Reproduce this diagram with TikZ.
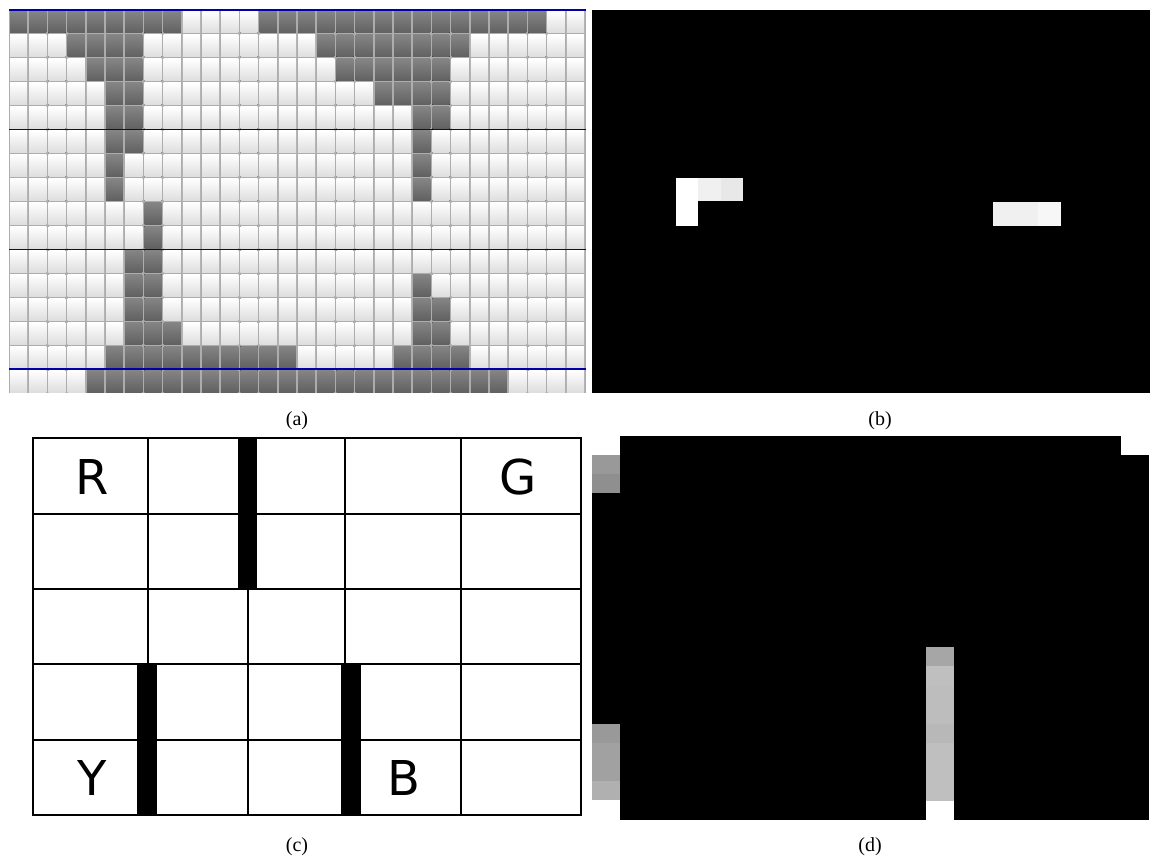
\documentclass[tikz,border=0pt]{standalone}
\usepackage{fontspec}
\setmainfont{Liberation Serif}
\newfontfamily\dejavu{DejaVu Sans}
\usepackage{tikz}
\usetikzlibrary{positioning}
\usepackage{xcolor}

\begin{document}
\begin{tikzpicture}[
    x=1pt, y=-1pt,
    cell/.style={top color=white, bottom color=black!13},
    darkcell/.style={top color=black!48, bottom color=black!62},
    rowline/.style={blue!65!black, line width=1.3pt},
    gridline/.style={line width=2.2pt, line cap=rect},
    wall/.style={fill=black},
    letter/.style={font=\dejavu\fontsize{48}{50}\selectfont, inner sep=0pt},
    caption/.style={font=\fontsize{20}{22}\selectfont, inner sep=0pt}
  ]
    \useasboundingbox (0,0) rectangle (1159,859);

    % (a) game screen
    \fill[black!32] (9,10) rectangle (586,393);
    \foreach \r in {0,...,15}
      \foreach \c in {0,...,29}
        \fill[cell] ({9+\c*19.2+1},{10+\r*23.94+1}) rectangle ({9+(\c+1)*19.2-1},{10+(\r+1)*23.94-1});
    \foreach \r/\a/\b in {0/0/8, 0/13/27, 1/3/6, 1/16/23, 2/4/6, 2/17/22, 3/5/6, 3/19/22,
                          4/5/6, 4/21/22, 5/5/6, 5/21/21, 6/5/5, 6/21/21, 7/5/5, 7/21/21,
                          8/7/7, 9/7/7, 10/6/7, 11/6/7, 11/21/21, 12/6/7, 12/21/22,
                          13/6/8, 13/21/22, 14/5/14, 14/20/23, 15/4/25}
      \foreach \c in {\a,...,\b}
        \fill[darkcell] ({9+\c*19.2+1},{10+\r*23.94+1}) rectangle ({9+(\c+1)*19.2-1},{10+(\r+1)*23.94-1});
    \foreach \y in {10,129.7,249.4,369.1}
      \draw[rowline] (9,\y) -- (586,\y);
    \node[caption] (capa) at (297,421) {(a)};

    % (b) frame difference
    \fill[black] (592,10) rectangle (1150,393);
    \fill[white] (676,178) rectangle (698,226);
    \fill[black!6] (698,178) rectangle (721,201);
    \fill[black!9] (721,178) rectangle (743,201);
    \fill[black!6] (993,202) rectangle (1038,226);
    \fill[black!3] (1038,202) rectangle (1061,226);
    \node[caption] (capb) at (880,421) {(b)};

    % (c) taxi grid
    \foreach \y in {514,589,664,740}
      \draw[gridline] (33,\y) -- (581,\y);
    \foreach \x in {148,248,345,461}
      \draw[gridline] (\x,438) -- (\x,815);
    \draw[gridline] (33,438) rectangle (581,815);
    \fill[wall] (238,438) rectangle (257,589);
    \fill[wall] (137,664) rectangle (157,815);
    \fill[wall] (341,664) rectangle (361,815);
    \node[letter] (red) at (92,477) {R};
    \node[letter] (green) at (518,477) {G};
    \node[letter] (yellow) at (92,778) {Y};
    \node[letter] (blue) at (404,778) {B};
    \node[caption] (capc) at (297,847) {(c)};

    % (d) saliency map
    \fill[black] (592,436) rectangle (1149,820);
    \fill[white] (592,436) rectangle (620,455);
    \fill[white] (1121,436) rectangle (1149,455);
    \fill[white] (592,800) rectangle (620,820);
    \fill[white] (926,801) rectangle (954,820);
    \fill[black!40] (592,455) rectangle (620,474);
    \fill[black!44] (592,474) rectangle (620,493);
    \fill[black!40] (592,724) rectangle (620,743);
    \fill[black!37] (592,743) rectangle (620,781);
    \fill[black!31] (592,781) rectangle (620,800);
    \fill[black!35] (926,647) rectangle (954,666);
    \fill[black!25] (926,666) rectangle (954,686);
    \fill[black!26] (926,686) rectangle (954,724);
    \fill[black!28] (926,724) rectangle (954,743);
    \fill[black!25] (926,743) rectangle (954,801);
    \node[caption] (capd) at (870,847) {(d)};
  \end{tikzpicture}
\end{document}
